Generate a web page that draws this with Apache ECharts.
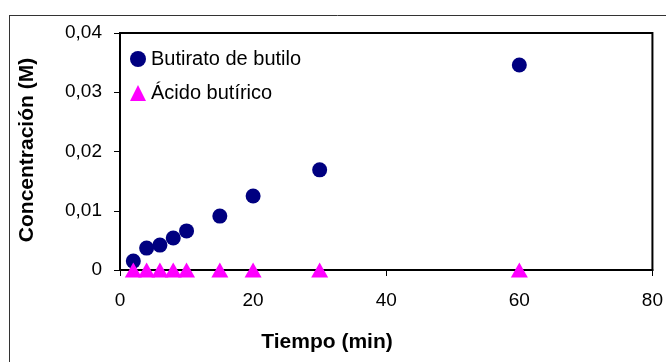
<!DOCTYPE html>
<html><head><meta charset="utf-8">
<script src="https://cdn.jsdelivr.net/npm/echarts@6/dist/echarts.min.js"></script>
<style>html,body{margin:0;padding:0;background:#fff}#c{width:666px;height:362px}</style>
</head><body><div id="c"></div>
<script>
const times = [2, 4, 6, 8, 10, 15, 20, 30, 60];
const butirato = [0.0015, 0.0037, 0.0042, 0.0054, 0.0066, 0.0091, 0.0125, 0.0169, 0.0346];
const acido = [0, 0, 0, 0, 0, 0, 0, 0, 0];
const seriesNames = ['Butirato de butilo', 'Ácido butírico'];
const xTitle = 'Tiempo (min)';
const yTitle = 'Concentración (M)';

const font = 'Liberation Sans, Arial, sans-serif';
const chart = echarts.init(document.getElementById('c'));
chart.setOption({
  animation: false,
  backgroundColor: '#fff',
  grid: { left: 120, right: 13, top: 33, bottom: 92, show: true, borderColor: '#000', borderWidth: 2, backgroundColor: 'transparent' },
  legend: {
    orient: 'vertical', left: 125, top: 44, itemWidth: 16, itemHeight: 16, itemGap: 14,
    textStyle: { fontFamily: font, fontSize: 20, color: '#000' },
    data: [{ name: seriesNames[0], icon: 'circle' }, { name: seriesNames[1], icon: 'triangle' }]
  },
  xAxis: {
    type: 'value', min: 0, max: 80, interval: 20,
    axisLine: { show: true, lineStyle: { color: '#000', width: 2 } },
    axisTick: { show: true, length: 6, lineStyle: { color: '#000', width: 1 } },
    axisLabel: { fontFamily: font, fontSize: 19, color: '#000', margin: 21 },
    splitLine: { show: false }
  },
  yAxis: {
    type: 'value', min: 0, max: 0.04, interval: 0.01,
    axisLine: { show: true, lineStyle: { color: '#000', width: 2 } },
    axisTick: { show: true, length: 6, lineStyle: { color: '#000', width: 1 } },
    axisLabel: { fontFamily: font, fontSize: 19, color: '#000', margin: 18,
      formatter: v => v === 0 ? '0' : v.toFixed(2).replace('.', ',') },
    splitLine: { show: false }
  },
  graphic: [
    { type: 'line', shape: { x1: 9, y1: 15.5, x2: 666, y2: 15.5 }, style: { stroke: '#333', lineWidth: 1 } },
    { type: 'line', shape: { x1: 9.5, y1: 15, x2: 9.5, y2: 362 }, style: { stroke: '#333', lineWidth: 1 } },
    { type: 'text', x: 327, y: 342, style: { text: xTitle, fontFamily: font, fontSize: 21, fontWeight: 'bold', fill: '#000', align: 'center', verticalAlign: 'middle' } },
    { type: 'text', x: 27, y: 150, rotation: Math.PI / 2, style: { text: yTitle, fontFamily: font, fontSize: 21, fontWeight: 'bold', fill: '#000', align: 'center', verticalAlign: 'middle' } }
  ],
  series: [
    { name: seriesNames[0], type: 'scatter', symbol: 'circle', symbolSize: 15, clip: false,
      itemStyle: { color: '#000080', opacity: 1 }, data: times.map((t, i) => [t, butirato[i]]), z: 3 },
    { name: seriesNames[1], type: 'scatter', symbol: 'triangle', symbolSize: [17, 15], clip: false,
      itemStyle: { color: '#ff00ff', opacity: 1 }, data: times.map((t, i) => [t, acido[i]]), z: 4 }
  ]
});
</script></body></html>
